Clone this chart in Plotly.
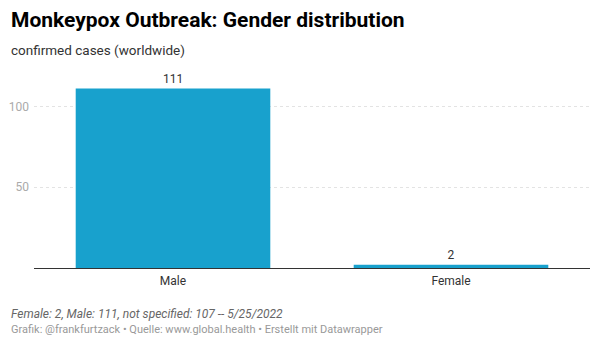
import plotly.graph_objects as go

categories = ["Male", "Female"]
cases = [111, 2]
ytick_vals = [50, 100]
ytick_text = ["50", "100"]

T, B = 74, 79
H = 347 - T - B

fig = go.Figure()
fig.add_trace(go.Bar(
    x=categories, y=cases,
    marker=dict(color="#18a1cd", line=dict(width=0)),
    text=[str(v) for v in cases], textposition="outside",
    textfont=dict(family="Roboto", size=12, color="#333333"),
    cliponaxis=False, width=0.7,
))

fig.update_layout(
    width=600, height=347,
    margin=dict(l=34, r=10, t=T, b=B),
    paper_bgcolor="white", plot_bgcolor="white",
    font=dict(family="Roboto", color="#333333"),
    showlegend=False,
    bargap=0.3,
    xaxis=dict(showline=True, linecolor="#333333", linewidth=1, ticks="",
               tickfont=dict(family="Roboto", size=12, color="#333333"),
               ticklabelstandoff=2,
               showgrid=False, fixedrange=True),
    yaxis=dict(range=[0, 120], tickvals=ytick_vals, ticktext=ytick_text,
               showgrid=True, gridcolor="#e3e3e3", gridwidth=1, griddash="dot",
               zeroline=False, showline=False, ticks="",
               tickfont=dict(family="Roboto", size=12, color="#aaaaaa"),
               ticklabelstandoff=4),
)

def px_ann(text, x, y, size, color, italic=False, bold=False):
    if bold:
        text = f"<b>{text}</b>"
    if italic:
        text = f"<i>{text}</i>"
    fig.add_annotation(text=text, xref="paper", yref="paper",
                       x=(x - 34) / 556, y=1 - (y - T) / H,
                       xanchor="left", yanchor="middle", showarrow=False,
                       font=dict(family="Roboto", size=size, color=color))

px_ann("Monkeypox Outbreak: Gender distribution", 9, 20, 21, "#000000", bold=True)
px_ann("confirmed cases (worldwide)", 9, 50, 13.5, "#333333")
px_ann("Female: 2, Male: 111, not specified: 107 -- 5/25/2022", 9, 314, 12, "#666666", italic=True)
px_ann("Grafik: @frankfurtzack • Quelle: www.global.health • Erstellt mit Datawrapper", 9, 329, 11, "#999999")

fig.write_html("out.html")
